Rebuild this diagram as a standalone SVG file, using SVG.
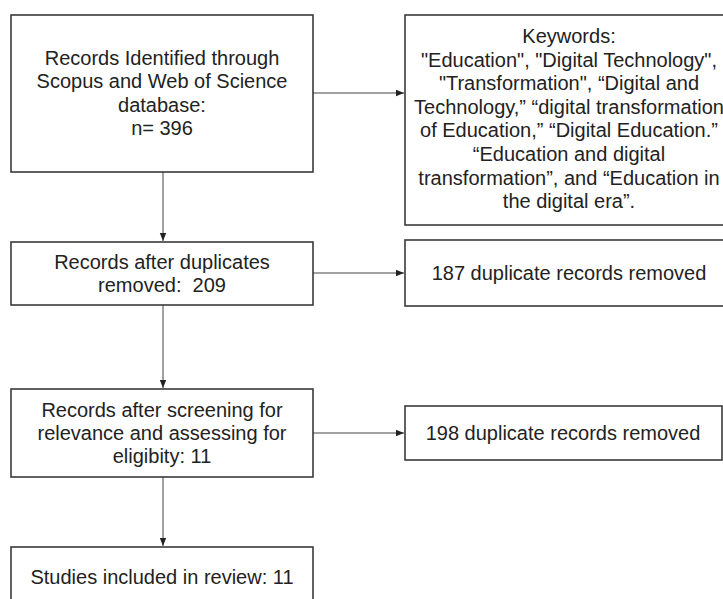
<svg xmlns="http://www.w3.org/2000/svg" width="723" height="599" viewBox="0 0 723 599">
<style>
.box{fill:#fff;stroke:#3a3a3a;stroke-width:1.6}
.t{font-family:"Liberation Sans",Arial,sans-serif;font-size:20px;fill:#222;text-anchor:middle}
.c{stroke:#444;stroke-width:1;fill:none}
</style>
<defs>
<marker id="ah" viewBox="0 0 8 8" refX="8" refY="4" markerWidth="8" markerHeight="8" markerUnits="userSpaceOnUse" orient="auto">
<path d="M0,0.8 L8,4 L0,7.2 Z" fill="#222"/>
</marker>
</defs>
<rect width="723" height="599" fill="#fff"/>
<g id="connectors">
<line class="c" x1="163" y1="172" x2="163" y2="241" marker-end="url(#ah)"/>
<line class="c" x1="163" y1="305" x2="163" y2="388" marker-end="url(#ah)"/>
<line class="c" x1="163" y1="477" x2="163" y2="546" marker-end="url(#ah)"/>
<line class="c" x1="313" y1="93" x2="404" y2="93" marker-end="url(#ah)"/>
<line class="c" x1="313" y1="273" x2="404" y2="273" marker-end="url(#ah)"/>
<line class="c" x1="313" y1="433" x2="404" y2="433" marker-end="url(#ah)"/>
</g>
<g id="n1">
<rect class="box" x="11" y="15" width="302" height="157"/>
<text class="t" x="162" y="65">Records Identified through</text>
<text class="t" x="162" y="88.4">Scopus and Web of Science</text>
<text class="t" x="162" y="111.8">database:</text>
<text class="t" x="162" y="135.2">n= 396</text>
</g>
<g id="n2">
<rect class="box" x="11" y="242" width="302" height="63"/>
<text class="t" x="162" y="268.5">Records after duplicates</text>
<text class="t" x="162" y="291.9">removed:&#160; 209</text>
</g>
<g id="n3">
<rect class="box" x="11" y="389" width="302" height="88"/>
<text class="t" x="162" y="416.5">Records after screening for</text>
<text class="t" x="162" y="439.9">relevance and assessing for</text>
<text class="t" x="162" y="463.3">eligibity: 11</text>
</g>
<g id="n4">
<rect class="box" x="11" y="547" width="302" height="74"/>
<text class="t" x="162" y="584">Studies included in review: 11</text>
</g>
<g id="k">
<rect class="box" x="405" y="15" width="328" height="210"/>
<text class="t" x="569" y="43">Keywords:</text>
<text class="t" x="569" y="66.6">"Education", "Digital Technology",</text>
<text class="t" x="569" y="90.2">"Transformation", “Digital and</text>
<text class="t" x="569" y="113.8">Technology,” “digital transformation</text>
<text class="t" x="569" y="137.4">of Education,” “Digital Education.”</text>
<text class="t" x="569" y="161">“Education and digital</text>
<text class="t" x="569" y="184.6">transformation”, and “Education in</text>
<text class="t" x="569" y="208.2">the digital era”.</text>
</g>
<g id="r1">
<rect class="box" x="405" y="240" width="329" height="66"/>
<text class="t" x="569" y="280">187 duplicate records removed</text>
</g>
<g id="r2">
<rect class="box" x="405" y="406" width="317" height="54"/>
<text class="t" x="563" y="440">198 duplicate records removed</text>
</g>
</svg>
